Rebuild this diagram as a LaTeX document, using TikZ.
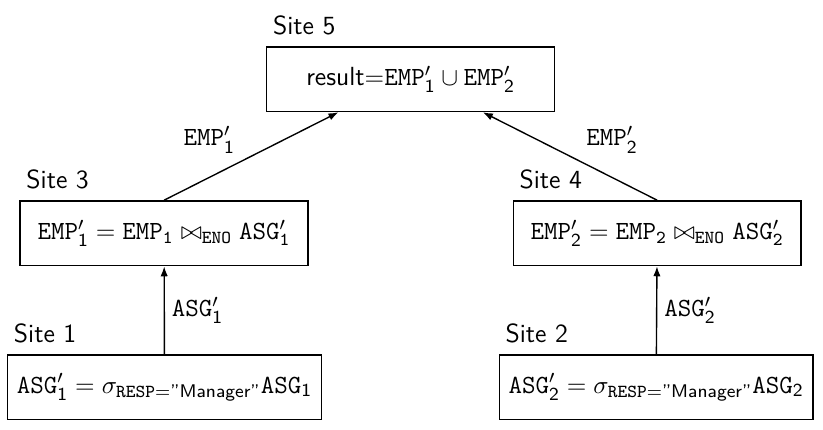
\documentclass[tikz,border=0pt]{standalone}
\usepackage{amsmath}
\usepackage{fontspec}
\usepackage{tikz}
\usetikzlibrary{arrows.meta, positioning, calc}

\newcommand{\rel}[1]{\texttt{#1}}
\newcommand{\mgr}{\text{\sffamily''Manager''}}

\begin{document}
\begin{tikzpicture}[font=\sffamily\fontsize{11.4}{14}\selectfont,
      site/.style={draw, semithick, minimum width=4.4cm, minimum height=0.99cm, inner sep=4pt},
      wide/.style={site, minimum width=4.5cm},
      sitelbl/.style={inner sep=0pt, anchor=south west},
      flow/.style={semithick, -{Latex[length=4.3pt,width=3.2pt]}},
      msg/.style={inner sep=3pt}]

      \useasboundingbox (0,0) rectangle (12.58,6.57);

      \node[site] (s5) at (6.277,5.359) {result$=$$\rel{EMP}'_{\mathsf{1}}\cup\rel{EMP}'_{\mathsf{2}}$};
      \node[site] (s3) at (2.508,3.004) {$\rel{EMP}'_{\mathsf{1}} = \rel{EMP}_{\texttt{1}} \bowtie_{\texttt{ENO}} \rel{ASG}'_{\texttt{1}}$};
      \node[site] (s4) at (10.045,3.004) {$\rel{EMP}'_{\mathsf{2}} = \rel{EMP}_{\texttt{2}} \bowtie_{\texttt{ENO}} \rel{ASG}'_{\texttt{2}}$};
      \node[wide] (s1) at (2.515,0.650) {$\rel{ASG}'_{\mathsf{1}} = \sigma_{\texttt{RESP}=\mgr}\rel{ASG}_{\mathsf{1}}$};
      \node[wide] (s2) at (10.030,0.650) {$\rel{ASG}'_{\mathsf{2}} = \sigma_{\texttt{RESP}=\mgr}\rel{ASG}_{\mathsf{2}}$};

      \node[sitelbl, above right=0.16cm and 0.1cm of s5.north west] (l5) {Site 5};
      \node[sitelbl, above right=0.16cm and 0.1cm of s3.north west] (l3) {Site 3};
      \node[sitelbl, above right=0.16cm and 0.1cm of s4.north west] (l4) {Site 4};
      \node[sitelbl, above right=0.16cm and 0.1cm of s1.north west] (l1) {Site 1};
      \node[sitelbl, above right=0.16cm and 0.1cm of s2.north west] (l2) {Site 2};

      \draw[flow] (s1) -- node[msg, right] {$\rel{ASG}'_{\mathsf{1}}$} (s3);
      \draw[flow] (s2) -- node[msg, right] {$\rel{ASG}'_{\mathsf{2}}$} (s4);
      \draw[flow] (s3.north) -- node[msg, above left, pos=.45] {$\rel{EMP}'_{\mathsf{1}}$} ($(s5.south)!.5!(s5.south west)$);
      \draw[flow] (s4.north) -- node[msg, above right, pos=.45] {$\rel{EMP}'_{\mathsf{2}}$} ($(s5.south)!.5!(s5.south east)$);
    \end{tikzpicture}
\end{document}
